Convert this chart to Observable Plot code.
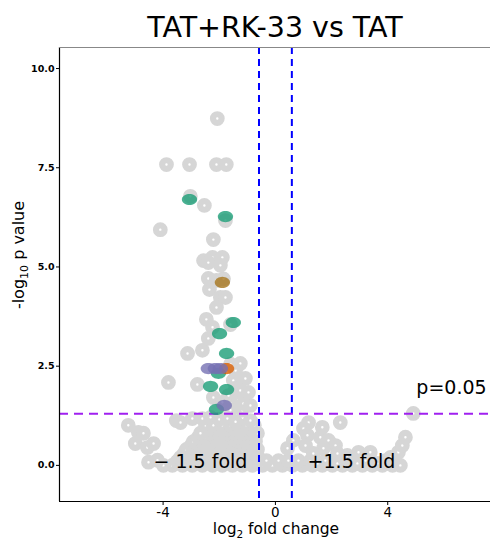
<!DOCTYPE html>
<html><head><meta charset="utf-8">
<script src="https://cdn.jsdelivr.net/npm/d3@7"></script>
<script src="https://cdn.jsdelivr.net/npm/@observablehq/plot@0.6"></script>
<style>body{margin:0;background:#fff}</style>
</head><body><div id="chart"></div>
<script>
// all genes (log2 fold change, -log10 p)
const background = [
 [-0.46,0.00],[-0.11,0.00],[0.25,0.00],[0.61,0.00],[0.96,0.00],[1.32,0.00],[1.67,0.00],[2.03,0.00],[2.39,0.00],[2.74,0.00],
 [3.10,0.00],[3.45,0.00],[3.81,0.00],[4.17,0.00],[4.45,0.00],
 [0.43,0.05],[0.78,0.05],[1.14,0.05],[1.50,0.05],[1.85,0.05],[2.21,0.05],[2.57,0.05],[2.92,0.05],[3.28,0.05],[3.63,0.05],[3.99,0.05],
 [-0.32,0.12],[0.11,0.12],[0.46,0.12],[0.82,0.12],[1.25,0.12],[1.78,0.12],[2.49,0.12],[3.21,0.12],[3.92,0.12],
 [-3.99,0.00],[-3.67,0.00],[-3.31,0.00],[-2.96,0.00],[-2.60,0.00],[-2.24,0.00],[-1.89,0.00],[-1.53,0.00],[-1.18,0.00],[-0.82,0.00],
 [-3.50,0.10],[-3.15,0.10],[-2.80,0.10],[-2.45,0.10],[-2.10,0.10],[-1.70,0.10],[-1.35,0.10],[-1.00,0.10],[-0.65,0.10],
 [-3.38,0.20],[-3.03,0.20],[-2.67,0.20],[-2.31,0.20],[-1.96,0.20],[-1.60,0.20],[-1.25,0.20],[-0.89,0.20],[-0.61,0.20],
 [-3.25,0.30],[-2.90,0.30],[-2.50,0.30],[-2.15,0.30],[-1.80,0.30],[-1.45,0.30],[-1.10,0.30],[-0.75,0.30],
 [-3.17,0.40],[-2.85,0.40],[-2.53,0.40],[-2.21,0.40],[-1.89,0.40],[-1.57,0.40],[-1.25,0.40],[-0.93,0.40],[-0.64,0.40],
 [-3.00,0.50],[-2.70,0.50],[-2.40,0.50],[-2.05,0.50],[-1.75,0.50],[-1.40,0.50],[-1.10,0.50],[-0.80,0.50],
 [-2.92,0.60],[-2.60,0.60],[-2.28,0.60],[-1.96,0.60],[-1.64,0.60],[-1.32,0.60],[-1.03,0.60],[-0.71,0.60],
 [-2.75,0.70],[-2.45,0.70],[-2.15,0.70],[-1.80,0.70],[-1.50,0.70],[-1.15,0.70],[-0.85,0.70],
 [-2.67,0.81],[-2.31,0.81],[-2.03,0.81],[-1.75,0.81],[-1.46,0.81],[-1.18,0.81],[-0.89,0.81],[-0.64,0.81],
 [-2.35,0.91],[-2.05,0.91],[-1.75,0.91],[-1.45,0.91],[-1.15,0.91],[-0.85,0.91],
 [-2.49,1.01],[-2.21,1.01],[-1.89,1.01],[-1.60,1.01],[-1.32,1.01],[-1.03,1.01],[-0.75,1.01],
 [-3.53,1.13],[-3.38,1.08],[-2.96,1.18],[-2.60,1.18],[-2.31,1.21],[-2.00,1.16],[-1.71,1.18],[-1.18,1.39],[-0.89,1.13],[-1.42,1.10],
 [-5.24,1.01],[-4.88,0.83],[-4.70,0.81],[-4.99,0.55],[-4.56,0.45],[-4.34,0.55],[-4.52,0.08],[-4.20,0.13],
 [0.64,0.63],[0.43,0.43],[1.18,1.08],[1.67,0.96],[2.31,1.08],[1.00,0.93],[1.14,0.76],[1.60,0.71],[1.89,0.63],
 [2.14,0.50],[1.07,0.50],[1.71,0.43],[1.35,0.30],[2.21,0.30],[2.56,0.25],[2.96,0.33],[3.38,0.33],
 [4.10,0.20],[4.38,0.33],[4.52,0.50],[4.63,0.71],[4.91,1.31],
 [-2.21,1.71],[-1.67,1.76],[-1.25,1.71],[-1.32,1.64],[-1.89,1.59],[-1.14,1.56],[-0.89,1.51],[-1.60,1.39],
 [-2.78,2.04],[-1.50,2.14],[-1.07,2.19],[-1.42,1.94],[-1.25,1.89],[-0.96,1.84],
 [-3.81,2.09],
 [-1.25,2.57],[-1.42,2.39],[-1.60,2.55],
 [-3.13,2.82],[-2.60,2.90],
 [-2.46,3.68],[-2.24,3.48],[-2.39,3.20],[-1.60,3.55],
 [-2.35,4.43],[-1.96,4.23],[-1.78,4.23],[-2.10,3.98],
 [-2.39,4.71],[-2.10,4.66],[-1.85,4.70],
 [-2.56,5.16],[-2.24,5.24],[-1.89,5.24],[-2.39,5.11],[-1.96,5.04],
 [-4.10,5.94],[-2.21,5.69],
 [-3.03,6.78],[-2.53,6.55],[-1.78,6.17],
 [-3.88,7.58],[-3.06,7.58],[-2.10,7.58],[-1.75,7.58],
 [-2.07,8.74]
];
// highlighted genes by group
const green = [[-3.06,6.70],[-1.78,6.27],[-1.50,3.60],[-1.99,3.32],[-1.74,2.82],[-2.03,2.32],[-2.31,1.99],[-1.74,1.91],[-2.10,1.41]];
const brown = [[-1.89,4.61]];
const orange = [[-1.74,2.44]];
const purple = [[-2.39,2.44],[-2.14,2.44],[-1.96,2.44],[-1.82,1.51]];

const xTicks = [-4, 0, 4];
const yTicks = [0, 2.5, 5, 7.5, 10];
const foldCutoffs = [-0.585, 0.585];
const pCutoff = [1.301];
const annotations = [
  {x: 6.27, y: 1.96, text: "p=0.05"},
  {x: -2.67, y: 0.08, text: "− 1.5 fold"},
  {x: 2.71, y: 0.08, text: "+1.5 fold"}
];
const xDomain = [-7.69, 7.66];
const yDomain = [-0.91, 10.53];

const ellipse = {draw(ctx, size) {
  const r = Math.sqrt(size / Math.PI), rx = r * 1.36, ry = r, n = 36;
  for (let i = 0; i < n; i++) {
    const a = 2 * Math.PI * i / n, px = rx * Math.cos(a), py = ry * Math.sin(a);
    i ? ctx.lineTo(px, py) : ctx.moveTo(px, py);
  }
  ctx.closePath();
}};
const X = d => d[0], Y = d => d[1];
const colored = (data, fill) => Plot.dot(data, {x: X, y: Y, r: 5.6, symbol: ellipse, fill, fillOpacity: 0.8, stroke: "none"});

const plot = Plot.plot({
  width: 490, height: 539,
  marginLeft: 59, marginRight: 0, marginTop: 47, marginBottom: 38,
  x: {domain: xDomain},
  y: {domain: yDomain},
  style: {fontFamily: "DejaVu Sans", background: "white", color: "black"},
  marks: [
    Plot.dot(background, {x: X, y: Y, r: 4.3, fill: "white", stroke: "#d6d6d6", strokeWidth: 6.2}),
    Plot.ruleX(foldCutoffs, {stroke: "#0000ff", strokeWidth: 2, strokeDasharray: "7,5"}),
    Plot.ruleY(pCutoff, {stroke: "#a020f0", strokeWidth: 2, strokeDasharray: "9,6"}),
    colored(green, "#1b9e77"),
    colored(brown, "#a6761d"),
    colored(orange, "#d95f02"),
    colored(purple, "#7570b3"),
    Plot.text(annotations, {x: "x", y: "y", text: "text", fontSize: 19, fill: "black"}),
    Plot.ruleX([xDomain[0]], {stroke: "black", strokeWidth: 1.2}),
    Plot.ruleY([yDomain[0]], {stroke: "black", strokeWidth: 1.2}),
    Plot.ruleY([yDomain[1]], {stroke: "#888888", strokeWidth: 1.2}),
    Plot.axisY(yTicks, {tickSize: 3, tickPadding: 2, fontSize: 9.5, fontWeight: "bold", tickFormat: d3.format(".1f"), label: null}),
    Plot.axisX(xTicks, {tickSize: 4, tickPadding: 2, fontSize: 13.5, tickFormat: d => String(d), label: null})
  ]
});
document.getElementById("chart").appendChild(plot);

const svg = d3.select(plot);
svg.append("text").attr("x", 275).attr("y", 37).attr("text-anchor", "middle")
  .attr("font-family", "DejaVu Sans").attr("font-size", 28.5).attr("fill", "black").text("TAT+RK-33 vs TAT");
const xl = svg.append("text").attr("x", 276).attr("y", 534).attr("text-anchor", "middle")
  .attr("font-family", "DejaVu Sans").attr("font-size", 15.5).attr("fill", "black");
xl.append("tspan").text("log");
xl.append("tspan").attr("font-size", 10.5).attr("dy", 4).text("2");
xl.append("tspan").attr("dy", -4).text(" fold change");
const yl = svg.append("text").attr("transform", "translate(24,255) rotate(-90)").attr("text-anchor", "middle")
  .attr("font-family", "DejaVu Sans").attr("font-size", 16).attr("fill", "black");
yl.append("tspan").text("-log");
yl.append("tspan").attr("font-size", 11).attr("dy", 4).text("10");
yl.append("tspan").attr("dy", -4).text(" p value");
</script></body></html>
